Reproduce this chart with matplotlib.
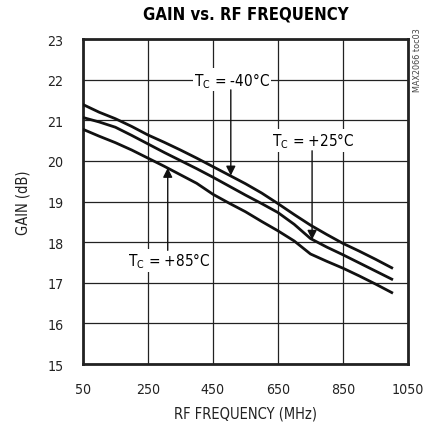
import numpy as np
import matplotlib.pyplot as plt

plt.rcParams['font.family'] = ['DejaVu Sans']
plt.rcParams['font.stretch'] = 'condensed'

# RF frequency (MHz) and gain (dB)
freq = [50, 100, 150, 200, 250, 300, 350, 400, 450, 500,
        550, 600, 650, 700, 750, 800, 850, 900, 950, 1000]
gain_m40 = [21.39, 21.20, 21.04, 20.85, 20.64, 20.46, 20.27, 20.07, 19.86, 19.65,
            19.44, 19.21, 18.95, 18.68, 18.42, 18.19, 17.97, 17.78, 17.58, 17.37]
gain_p25 = [21.07, 20.96, 20.83, 20.63, 20.42, 20.21, 20.01, 19.81, 19.60, 19.38,
            19.16, 18.95, 18.73, 18.44, 18.09, 17.88, 17.69, 17.49, 17.29, 17.09]
gain_p85 = [20.78, 20.61, 20.45, 20.27, 20.07, 19.87, 19.66, 19.45, 19.18, 18.96,
            18.75, 18.51, 18.28, 18.03, 17.71, 17.53, 17.36, 17.17, 16.97, 16.76]

xticks = [50, 250, 450, 650, 850, 1050]
yticks = [15, 16, 17, 18, 19, 20, 21, 22, 23]

fig = plt.figure(figsize=(4.25, 4.31), dpi=100)
ax = fig.add_axes([0.195, 0.153, 0.765, 0.754])

for g in [gain_m40, gain_p25, gain_p85]:
    ax.plot(freq, g, color='#111111', lw=2.0, solid_joinstyle='round', zorder=3)

ax.set_xlim(50, 1050)
ax.set_ylim(15, 23)
ax.set_xticks(xticks)
ax.set_yticks(yticks)
ax.grid(True, color='#222222', lw=0.9)
ax.tick_params(length=0, labelsize=10.2, pad=13, labelcolor='#222222')
ax.tick_params(axis='y', pad=14)
for s in ax.spines.values():
    s.set_linewidth(2.0)
    s.set_color('#222222')

ax.set_xlabel('RF FREQUENCY (MHz)', fontsize=10.5, labelpad=7, color='#222222')
ax.set_ylabel('GAIN (dB)', fontsize=10.5, labelpad=12, color='#222222')
ax.set_title('GAIN vs. RF FREQUENCY', fontsize=12, fontweight='bold', pad=15)

box = dict(facecolor='white', edgecolor='none', pad=1)
arrow = dict(arrowstyle='-|>', color='#111111', lw=1.0, mutation_scale=14, shrinkA=0, shrinkB=0)

ax.text(509, 22.0, r'T$_\mathregular{C}$ = -40°C', ha='center', va='center', fontsize=11, bbox=box, zorder=4)
ax.annotate('', xy=(505, 19.64), xytext=(505, 21.75), arrowprops=arrow, zorder=5)

ax.text(758, 20.5, r'T$_\mathregular{C}$ = +25°C', ha='center', va='center', fontsize=11, bbox=box, zorder=4)
ax.annotate('', xy=(755, 18.06), xytext=(755, 20.25), arrowprops=arrow, zorder=5)

ax.text(316, 17.55, r'T$_\mathregular{C}$ = +85°C', ha='center', va='center', fontsize=11, bbox=box, zorder=4)
ax.annotate('', xy=(311, 19.83), xytext=(311, 17.8), arrowprops=arrow, zorder=5)

fig.text(0.982, 0.86, 'MAX2066 toc03', rotation=90, ha='center', va='center',
         fontsize=6.5, color='#444444')

fig.savefig('out.png', dpi=100)
